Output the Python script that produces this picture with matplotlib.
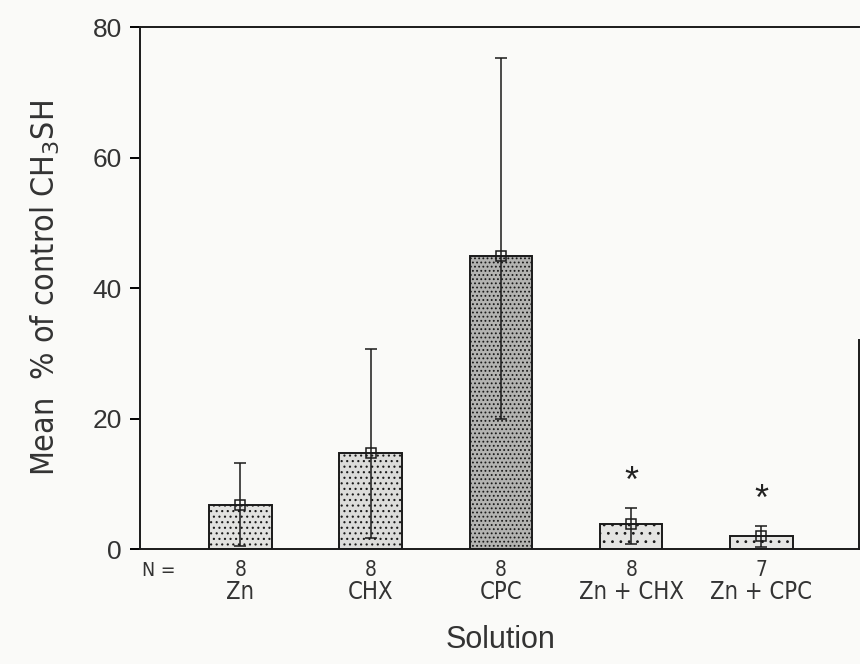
import matplotlib

matplotlib.use("Agg")

import matplotlib.pyplot as plt
import numpy as np

solutions = ["Zn", "CHX", "CPC", "Zn + CHX", "Zn + CPC"]
n_counts = [8, 8, 8, 8, 7]
means = [6.7, 14.8, 45.0, 3.8, 2.0]
err_low = [6.2, 13.1, 25.0, 3.0, 1.7]
err_high = [6.5, 15.8, 30.3, 2.5, 1.5]
significant = [False, False, False, True, True]
y_ticks = [0, 20, 40, 60, 80]

narrow = dict(family="DejaVu Sans", stretch="condensed")
wide = dict(family=["Liberation Sans", "DejaVu Sans"])

plt.rcParams["hatch.color"] = "#555555"
plt.rcParams["hatch.linewidth"] = 0.8

fig = plt.figure(figsize=(8.6, 6.64), dpi=100, facecolor="#fafaf8")
ax = fig.add_axes([0.163, 0.173, 0.836, 0.786])
ax.set_facecolor("#fafaf8")

# stippled bars, CPC darker
x = np.arange(len(solutions))
fills = ["#e2e2e0", "#dcdcda", "#b3b3b1", "#e4e4e2", "#e6e6e4"]
hatches = ["...", "...", "....", "..", ".."]
for xi, m, fc, h in zip(x, means, fills, hatches):
    ax.bar(xi, m, width=0.48, facecolor=fc, edgecolor="#1a1a1a",
           linewidth=1.4, hatch=h, zorder=2)

ax.errorbar(x, means, yerr=[err_low, err_high], fmt="s", mfc="none",
            mec="#1a1a1a", ms=7, mew=1.1, ecolor="#1a1a1a", elinewidth=1.1,
            capsize=4.5, capthick=1.4, zorder=3)

for xi, m, hi, sig in zip(x, means, err_high, significant):
    if sig:
        ax.annotate("*", (xi, m + hi), xytext=(0, 6), textcoords="offset points",
                    ha="center", va="bottom", fontsize=26, color="#222222",
                    **wide)

ax.set_xlim(-0.77, 4.75)
ax.set_ylim(0, 80)
ax.set_yticks(y_ticks)
ax.set_yticklabels([str(t) for t in y_ticks], fontsize=19, color="#333333",
                   **wide)
ax.tick_params(axis="y", direction="out", length=7, width=1.4, pad=6)
ax.set_xticks([])

for side in ["left", "bottom", "top", "right"]:
    ax.spines[side].set_linewidth(1.4)
    ax.spines[side].set_color("#1a1a1a")
ax.spines["right"].set_bounds(0, 32)

# sample sizes and group names under the axis
tr = ax.get_xaxis_transform()
ax.text(-0.63, -0.040, "N =", transform=tr, ha="center", va="center",
        fontsize=14, color="#333333", **narrow)
for xi, n, name in zip(x, n_counts, solutions):
    ax.text(xi, -0.040, str(n), transform=tr, ha="center", va="center",
            fontsize=15, color="#333333", **narrow)
    ax.text(xi, -0.082, name, transform=tr, ha="center", va="center",
            fontsize=17, color="#333333", **narrow)

ax.text(2.0, -0.174, "Solution", transform=tr, ha="center", va="center",
        fontsize=22, color="#333333", **wide)

ax.set_ylabel("Mean  % of control CH$_3$SH", fontsize=23, color="#333333",
              labelpad=22, **narrow)

fig.savefig("out.png", dpi=100, facecolor=fig.get_facecolor())
plt.close(fig)
